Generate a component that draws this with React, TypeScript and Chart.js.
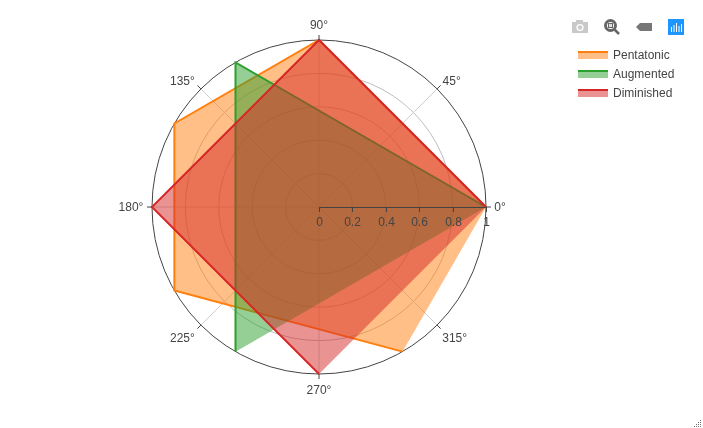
import React, { useEffect, useRef } from "react";
import { Chart, registerables } from "chart.js";

Chart.register(...registerables);

const angleLabels = ["0°", "45°", "90°", "135°", "180°", "225°", "270°", "315°"];
const labelOffsets = [[9, 1], [11, -4], [0, -9], [-15, -4], [-16, 1], [-15, 10], [0, 12], [14, 10]];
const radialTicks = [0, 0.2, 0.4, 0.6, 0.8, 1];
const angles = [0, 15, 30, 45, 60, 75, 90, 105, 120, 135, 150, 165, 180, 195, 210, 225, 240, 255, 270, 285, 300, 315, 330, 345];

const pentatonicTheta = [0, 300, 210, 150, 90];
const pentatonicR = [1, 1, 1, 1, 1];
const augmentedTheta = [0, 240, 120];
const augmentedR = [1, 1, 1];
const diminishedTheta = [0, 270, 180, 90];
const diminishedR = [1, 1, 1, 1];

const seriesNames = ["Pentatonic", "Augmented", "Diminished"];
const lineColors = ["#ff7f0e", "#2ca02c", "#d62728"];
const fillColors = ["rgba(255,127,14,0.5)", "rgba(44,160,44,0.5)", "rgba(214,39,40,0.5)"];

// Radar categories run clockwise; polar angles run counter-clockwise.
const categories = angles.map((_, i) => String((360 - i * 15) % 360) + "°");
function toRadar(theta: number[], r: number[]) {
  const out: (number | null)[] = categories.map(() => null);
  theta.forEach((t, i) => {
    out[((360 - t) % 360) / 15] = r[i];
  });
  return out;
}

const FONT = '12px "Liberation Sans", Arial, sans-serif';
const TEXT = "#444";

// Traces run counter-clockwise from 0° and stay open: the fill closes itself, the stroke does not.
const openPaths = {
  id: "openPaths",
  afterDatasetsUpdate(chart: any) {
    chart.data.datasets.forEach((_: any, i: number) => {
      const line = chart.getDatasetMeta(i).dataset;
      const first = line.points.findIndex((p: any, k: number) => k > 0 && !p.skip);
      line._segments = [{ start: first, end: 0, loop: false }];
      line._path = undefined;
    });
  },
};

const overlay = {
  id: "polarOverlay",
  afterDatasetsDraw(chart: any) {
    const ctx = chart.ctx;
    const s = chart.scales.r;
    ctx.save();
    ctx.font = FONT;
    ctx.fillStyle = TEXT;
    ctx.strokeStyle = TEXT;
    ctx.lineWidth = 1;
    ctx.textAlign = "center";
    ctx.textBaseline = "middle";

    // angular ticks and labels
    angleLabels.forEach((lab, k) => {
      const idx = ((8 - k) % 8) * 3;
      const a = s.getPointPosition(idx, s.drawingArea);
      const b = s.getPointPosition(idx, s.drawingArea + 5);
      ctx.beginPath();
      ctx.moveTo(a.x, a.y);
      ctx.lineTo(b.x, b.y);
      ctx.stroke();
      const off = labelOffsets[k];
      ctx.fillText(lab, b.x + off[0], b.y + off[1]);
    });

    // radial axis
    const y0 = s.getPointPositionForValue(0, 0).y;
    const x0 = s.getDistanceFromCenterForValue(0) + s.xCenter;
    const x1 = s.getDistanceFromCenterForValue(1) + s.xCenter;
    ctx.beginPath();
    ctx.moveTo(x0, y0 + 0.5);
    ctx.lineTo(x1, y0 + 0.5);
    ctx.stroke();
    radialTicks.forEach((v) => {
      const x = Math.round(s.getDistanceFromCenterForValue(v) + s.xCenter) + 0.5;
      ctx.beginPath();
      ctx.moveTo(x, y0);
      ctx.lineTo(x, y0 + 5);
      ctx.stroke();
      ctx.fillText(String(v), x, y0 + 16);
    });

    // legend
    chart.data.datasets.forEach((d: any, i: number) => {
      const y = 55 + i * 19;
      ctx.fillStyle = fillColors[i];
      ctx.fillRect(578, y - 4, 30, 8);
      ctx.fillStyle = lineColors[i];
      ctx.fillRect(578, y - 4, 30, 2);
      ctx.fillStyle = TEXT;
      ctx.textAlign = "left";
      ctx.fillText(d.label, 613, y + 1);
    });

    // mode bar: camera
    ctx.fillStyle = "#c9c9c9";
    ctx.fillRect(572, 22, 16, 11);
    ctx.fillRect(576, 20, 7, 3);
    ctx.fillStyle = "#fff";
    ctx.beginPath();
    ctx.arc(580, 27.5, 3.6, 0, Math.PI * 2);
    ctx.fill();
    ctx.fillStyle = "#c9c9c9";
    ctx.beginPath();
    ctx.arc(580, 27.5, 2.2, 0, Math.PI * 2);
    ctx.fill();
    // magnifier
    ctx.strokeStyle = "#666";
    ctx.lineWidth = 3;
    ctx.beginPath();
    ctx.arc(610.5, 25.5, 5, 0, Math.PI * 2);
    ctx.stroke();
    ctx.fillStyle = "#666";
    ctx.fillRect(608, 23, 5, 5);
    ctx.fillStyle = "#ddd";
    ctx.fillRect(609, 24, 3, 3);
    ctx.lineWidth = 2.5;
    ctx.beginPath();
    ctx.moveTo(614.5, 29.5);
    ctx.lineTo(619, 34);
    ctx.stroke();
    // back arrow
    ctx.fillStyle = "#777";
    ctx.beginPath();
    ctx.moveTo(636, 27);
    ctx.lineTo(640, 23);
    ctx.lineTo(652, 23);
    ctx.lineTo(652, 31);
    ctx.lineTo(640, 31);
    ctx.closePath();
    ctx.fill();
    // toggle icon
    ctx.fillStyle = "#1e96ff";
    ctx.fillRect(668, 19, 16, 16);
    ctx.fillStyle = "#fff";
    [[671, 27, 5], [673.5, 25, 7], [676, 23, 9], [678.5, 26, 6], [681, 24, 8]].forEach((b) => ctx.fillRect(b[0], b[1], 1, b[2]));
    // resize handle
    ctx.fillStyle = "#777";
    [[700, 420], [698, 422], [700, 422], [696, 424], [698, 424], [700, 424], [694, 426], [696, 426], [698, 426], [700, 426]].forEach((p) => ctx.fillRect(p[0], p[1], 1, 1));
    ctx.restore();
  },
};

export default function App() {
  const ref = useRef<HTMLCanvasElement>(null);
  useEffect(() => {
    document.body.style.margin = "0";
    const data = [
      toRadar(pentatonicTheta, pentatonicR),
      toRadar(augmentedTheta, augmentedR),
      toRadar(diminishedTheta, diminishedR),
    ];
    const chart = new Chart(ref.current as HTMLCanvasElement, {
      type: "radar",
      data: {
        labels: categories,
        datasets: seriesNames.map((name, i) => ({
          label: name,
          data: data[i],
          order: 3 - i,
          borderColor: lineColors[i],
          backgroundColor: fillColors[i],
          borderWidth: 2,
          pointRadius: 0,
          fill: "shape",
          spanGaps: true,
          tension: 0,
        })),
      },
      options: {
        responsive: false,
        animation: false,
        layout: { padding: { left: 152, right: 217, top: 40, bottom: 54 } },
        plugins: { legend: { display: false }, tooltip: { enabled: false } },
        scales: {
          r: {
            min: 0,
            max: 1,
            startAngle: 90,
            beginAtZero: true,
            ticks: { display: false, stepSize: 0.2 },
            pointLabels: { display: false },
            grid: {
              circular: true,
              color: (c: any) => (c.tick && c.tick.value === 1 ? TEXT : "#bdbdbd"),
            },
            angleLines: {
              display: true,
              color: (c: any) => (c.index % 3 === 0 ? "#cfcfcf" : "rgba(0,0,0,0)"),
            },
          },
        },
      } as any,
      plugins: [openPaths, overlay],
    } as any);
    return () => chart.destroy();
  }, []);
  return <canvas ref={ref} width={703} height={428} style={{ display: "block" }} />;
}
